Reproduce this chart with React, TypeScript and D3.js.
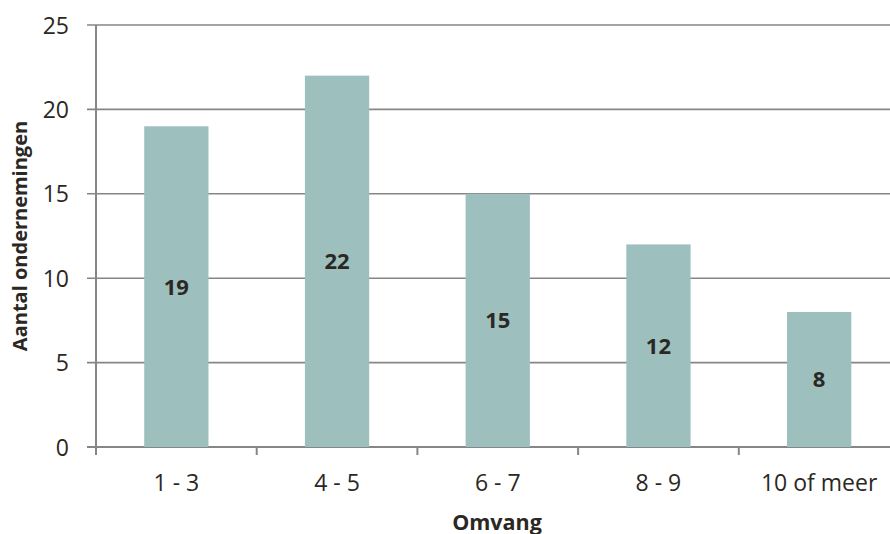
import React from "react";
import * as d3 from "d3";

const categories: string[] = ["1 - 3", "4 - 5", "6 - 7", "8 - 9", "10 of meer"];
const counts: number[] = [19, 22, 15, 12, 8];
const yTicks: number[] = [0, 5, 10, 15, 20, 25];

const W = 890;
const H = 534;
const FONT = "'Open Sans', sans-serif";
const TEXT = "#2b2824";
const GRID = "#868686";
const BAR = "#9dbfbd";

export default function App() {
  const left = 96;
  const step = 160.7;
  const x = d3
    .scaleBand<string>()
    .domain(categories)
    .range([left, left + step * categories.length])
    .paddingInner(0.6)
    .paddingOuter(0.3);
  const y = d3.scaleLinear().domain([0, 25]).range([447, 25]);
  const right = left + step * categories.length;
  const tickEdges = d3.range(categories.length + 1).map((i) => left + i * step);

  return (
    <svg
      width={W}
      height={H}
      viewBox={`0 0 ${W} ${H}`}
      style={{ position: "absolute", left: 0, top: 0, background: "#fff" }}
    >
      {/* horizontal gridlines with outward ticks */}
      {yTicks.map((t) => (
        <line
          key={`g${t}`}
          x1={87}
          x2={right}
          y1={y(t)}
          y2={y(t)}
          stroke={GRID}
          strokeWidth={t === 0 ? 2 : 1.6}
        />
      ))}
      {/* bars */}
      {counts.map((v, i) => (
        <rect
          key={`b${i}`}
          x={x(categories[i])}
          y={y(v)}
          width={x.bandwidth()}
          height={y(0) - y(v)}
          fill={BAR}
        />
      ))}
      {/* value axis line */}
      <line x1={left} x2={left} y1={y(25)} y2={y(0) + 8} stroke={GRID} strokeWidth={2} />
      {/* category separators */}
      {tickEdges.map((e, i) => (
        <line key={`t${i}`} x1={e} x2={e} y1={y(0)} y2={y(0) + 8} stroke={GRID} strokeWidth={2} />
      ))}
      {/* y tick labels */}
      {yTicks.map((t) => (
        <text
          key={`yl${t}`}
          x={69}
          y={y(t) + 8.5}
          textAnchor="end"
          fontFamily={FONT}
          fontSize={23}
          fill={TEXT}
        >
          {t}
        </text>
      ))}
      {/* x tick labels */}
      {categories.map((c) => (
        <text
          key={`xl${c}`}
          x={(x(c) as number) + x.bandwidth() / 2}
          y={491}
          textAnchor="middle"
          fontFamily={FONT}
          fontSize={23}
          fill={TEXT}
        >
          {c}
        </text>
      ))}
      {/* value labels centred in bars */}
      {counts.map((v, i) => (
        <text
          key={`v${i}`}
          x={(x(categories[i]) as number) + x.bandwidth() / 2}
          y={(y(v) + y(0)) / 2}
          dy="0.36em"
          textAnchor="middle"
          fontFamily={FONT}
          fontWeight="bold"
          fontSize={22}
          fill={TEXT}
        >
          {v}
        </text>
      ))}
      {/* axis titles */}
      <text
        x={(left + 890) / 2 + 4}
        y={530}
        textAnchor="middle"
        fontFamily={FONT}
        fontWeight="bold"
        fontSize={21.5}
        fill={TEXT}
      >
        Omvang
      </text>
      <text
        transform={`translate(27, ${(y(0) + y(25)) / 2}) rotate(-90)`}
        textAnchor="middle"
        fontFamily={FONT}
        fontWeight="bold"
        fontSize={20}
        fill={TEXT}
      >
        Aantal ondernemingen
      </text>
    </svg>
  );
}
